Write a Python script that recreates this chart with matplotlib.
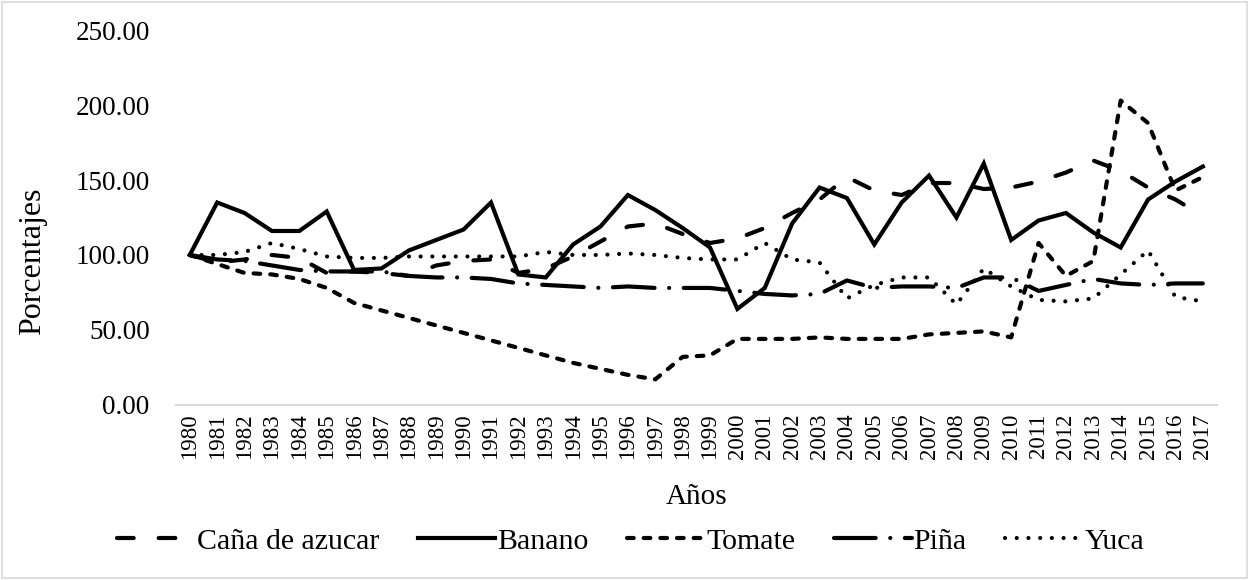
import matplotlib.pyplot as plt
from matplotlib.patches import Rectangle

years = list(range(1980, 2018))

cana = [100, 95, 97, 100, 98, 88, 89, 88, 86, 93, 96, 97, 88, 91, 99, 109, 119, 121, 114, 108,
        111, 118, 128, 137, 152, 143, 140, 148, 148, 144, 145, 149, 155, 163, 156, 145, 137, 126]
banano = [100, 135, 128, 116, 116, 129, 90, 91, 103, 110, 117, 135, 87, 85, 107, 119, 140, 130, 118, 105,
          64, 78, 121, 145, 138, 107, 135, 153, 125, 161, 110, 123, 128, 115, 105, 137, 149, 159]
tomate = [100, 94, 88, 87, 84, 78, 68, 63, 58, 53, 48, 43, 38, 33, 28, 24, 20, 17, 32, 33,
          44, 44, 44, 45, 44, 44, 44, 47, 48, 49, 45, 108, 86, 96, 203, 188, 143, 152]
pina = [100, 97, 96, 93, 90, 89, 89, 89, 86, 85, 85, 84, 81, 80, 79, 78, 79, 78, 78, 78,
        76, 74, 73, 74, 83, 78, 79, 79, 78, 85, 85, 76, 80, 84, 81, 80, 81, 81]
yuca = [100, 100, 102, 108, 104, 99, 98, 98, 99, 99, 99, 99, 99, 102, 100, 100, 101, 100, 98, 97,
        97, 108, 97, 95, 71, 80, 85, 85, 67, 91, 79, 70, 69, 71, 87, 103, 72, 69]

yticks = [0, 50, 100, 150, 200, 250]

plt.rcParams['font.family'] = ['Liberation Serif', 'DejaVu Serif']

fig = plt.figure(figsize=(12.49, 5.80), dpi=100)
ax = fig.add_axes([0.141, 0.302, 0.833, 0.646])

x = list(range(len(years)))
lw = 3.0
ax.plot(x, cana, color='black', lw=lw, dashes=(4, 6), dash_capstyle='round', label='Caña de azucar')
ax.plot(x, banano, color='black', lw=lw, solid_joinstyle='miter', label='Banano')
ax.plot(x, tomate, color='black', lw=lw, dashes=(1.6, 2.4), dash_capstyle='round', label='Tomate')
ax.plot(x, pina, color='black', lw=lw, dashes=(10, 3.5, 0.01, 3.5), dash_capstyle='round', label='Piña')
ax.plot(x, yuca, color='black', lw=lw, dashes=(0.01, 2.8), dash_capstyle='round', label='Yuca')

ax.set_xlim(-0.5, len(years) - 0.5)
ax.set_ylim(0, 250)
ax.set_xticks(x)
ax.set_xticklabels([str(y) for y in years], rotation=90, fontsize=16.5)
ax.set_yticks(yticks)
ax.set_yticklabels([f'{v:.2f}' for v in yticks], fontsize=19.5)
ax.tick_params(length=0, pad=6)
ax.tick_params(axis='y', pad=19)

for s in ['top', 'right', 'left']:
    ax.spines[s].set_visible(False)
ax.spines['bottom'].set_color('#d9d9d9')
ax.spines['bottom'].set_linewidth(1.5)

ax.set_ylabel('Porcentajes', fontsize=23)
ax.yaxis.set_label_coords(-0.124, 0.384)
ax.set_xlabel('Años', fontsize=21)
ax.xaxis.set_label_coords(0.5, -0.21)

fig.legend(loc='center', bbox_to_anchor=(0.505, 0.067), ncol=5, frameon=False, fontsize=21.5,
           handlelength=2.6, columnspacing=1.3, handletextpad=0.05)

fig.patches.append(Rectangle((0.002, 0.003), 0.996, 0.994, transform=fig.transFigure,
                             fill=False, edgecolor='#d9d9d9', lw=1.2))

plt.savefig('out.png', dpi=100)
